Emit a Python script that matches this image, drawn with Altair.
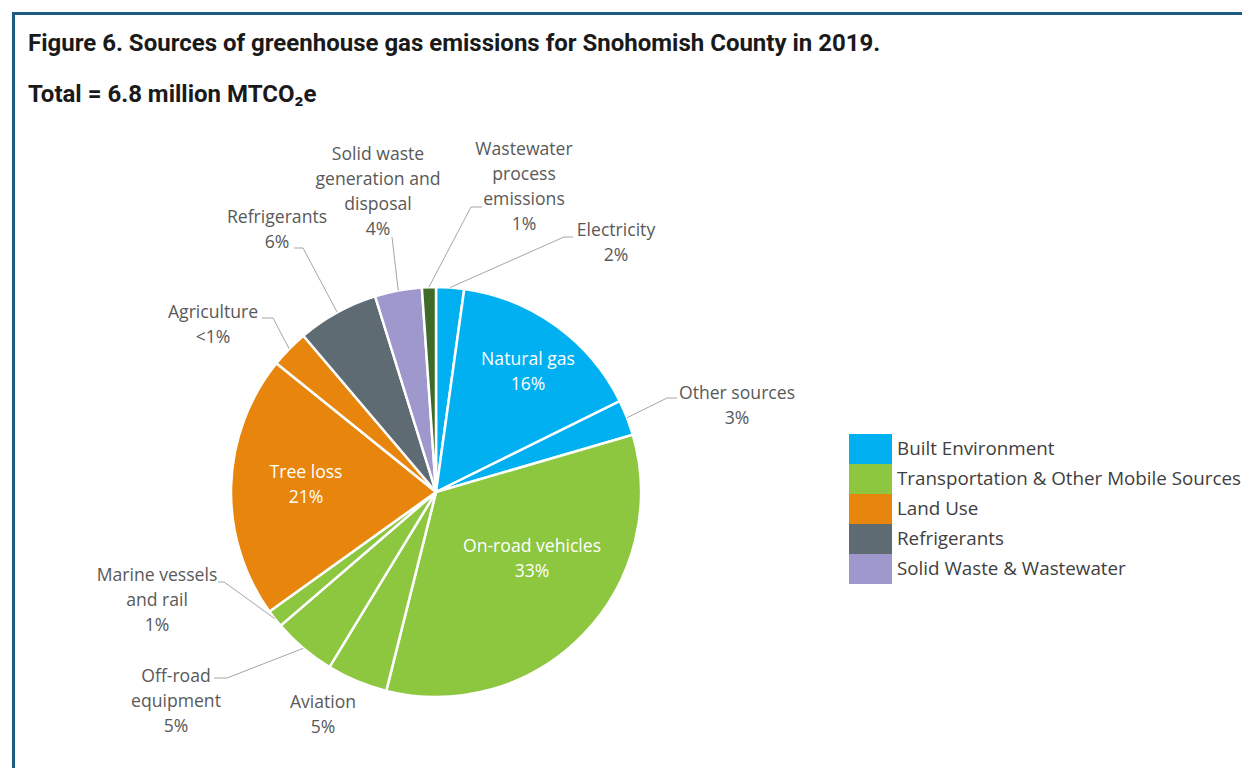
import altair as alt
import pandas as pd

# ---------------- data ----------------
names = ["Electricity", "Natural gas", "Other sources", "On-road vehicles", "Aviation",
         "Off-road equipment", "Marine vessels and rail", "Tree loss", "Agriculture",
         "Refrigerants", "Solid waste generation and disposal", "Wastewater process emissions"]
values = [2.2, 15.5, 2.8, 33.4, 4.8, 5.0, 1.4, 20.7, 3.0, 6.4, 3.7, 1.1]
groups = ["Built Environment", "Built Environment", "Built Environment",
          "Transportation & Other Mobile Sources", "Transportation & Other Mobile Sources",
          "Transportation & Other Mobile Sources", "Transportation & Other Mobile Sources",
          "Land Use", "Land Use", "Refrigerants",
          "Solid Waste & Wastewater", "Solid Waste & Wastewater"]
label_names = ["Electricity", "Natural gas", "Other sources", "On-road vehicles", "Aviation",
               "Off-road\nequipment", "Marine vessels\nand rail", "Tree loss", "Agriculture",
               "Refrigerants", "Solid waste\ngeneration and\ndisposal", "Wastewater\nprocess\nemissions"]
pct_labels = ["2%", "16%", "3%", "33%", "5%", "5%", "1%", "21%", "<1%", "6%", "4%", "1%"]
inside = [False, True, False, True, False, False, False, True, False, False, False, False]

group_names = ["Built Environment", "Transportation & Other Mobile Sources", "Land Use",
               "Refrigerants", "Solid Waste & Wastewater"]

# ---------------- styles ----------------
group_colors = ["#00B0F0", "#8DC63F", "#E8850C", "#5F6B73", "#9F98CC"]
slice_colors = ["#00B0F0", "#00B0F0", "#00B0F0", "#8DC63F", "#8DC63F", "#8DC63F", "#8DC63F",
                "#E8850C", "#E8850C", "#5F6B73", "#9F98CC", "#3E6B27"]

# ---------------- annotation layout (page pixels, first text line) ----------------
label_x = [616, 528, 737, 532, 323, 176, 157, 306, 213, 277, 378, 524]
label_y = [231, 360, 394, 547, 703, 677, 576, 473, 313, 218, 155, 150]
elbow_x = [564, None, 667, None, None, 227, 224, None, 273, 303, 392, 471]
elbow_y = [237, None, 398, None, None, 678, 582, None, 318, 248, 237, 207]
end_x = [573, None, 677, None, None, 214, 218, None, 262, 294, 392, 482]
end_y = [237, None, 398, None, None, 678, 582, None, 318, 248, 237, 207]

W, H = 1234, 760          # drawing size
OX, OY = 8, 8             # page margin
CX, CY, R = 436, 492, 205  # pie centre / radius on the page

df = pd.DataFrame({
    "idx": list(range(len(names))),
    "name": names, "value": values, "group": groups,
    "label": [f"{n}\n{p}" for n, p in zip(label_names, pct_labels)],
    "inside": inside,
    "lx": label_x, "ly": label_y,
    "elbow_x": elbow_x, "elbow_y": elbow_y, "end_x": end_x, "end_y": end_y,
})
gdf = pd.DataFrame({"group": group_names})

xs = alt.Scale(domain=[OX, OX + W], nice=False, zero=False)
ys = alt.Scale(domain=[OY + H, OY], nice=False, zero=False)

pie = alt.Chart(df).mark_arc(radius=R, stroke="white", strokeWidth=2.5).encode(
    theta=alt.Theta("value:Q", stack=True),
    order=alt.Order("idx:Q"),
    color=alt.Color("name:N", scale=alt.Scale(domain=names, range=slice_colors), legend=None),
    x=alt.value(CX - OX),
    y=alt.value(CY - OY),
)

lead = (
    alt.Chart(df)
    .transform_joinaggregate(total="sum(value)")
    .transform_window(cum="sum(value)", sort=[alt.SortField("idx")], frame=[None, 0])
    .transform_calculate(
        mid="(datum.cum - datum.value / 2) / datum.total * 2 * PI",
        ex=f"{CX} + {R} * sin(datum.mid)",
        ey=f"{CY} - {R} * cos(datum.mid)",
    )
    .transform_filter("isValid(datum.elbow_x)")
)
rule1 = lead.mark_rule(color="#A6A6A6", strokeWidth=1).encode(
    x=alt.X("ex:Q", scale=xs, axis=None), y=alt.Y("ey:Q", scale=ys, axis=None),
    x2="elbow_x:Q", y2="elbow_y:Q")
rule2 = lead.mark_rule(color="#A6A6A6", strokeWidth=1).encode(
    x=alt.X("elbow_x:Q", scale=xs, axis=None), y=alt.Y("elbow_y:Q", scale=ys, axis=None),
    x2="end_x:Q", y2="end_y:Q")

txt_common = dict(align="center", baseline="middle", lineBreak="\n", lineHeight=25,
                  font="Open Sans", fontSize=17.6)
txt_out = alt.Chart(df).transform_filter("!datum.inside").mark_text(
    color="#595959", **txt_common).encode(
    x=alt.X("lx:Q", scale=xs, axis=None), y=alt.Y("ly:Q", scale=ys, axis=None), text="label:N")
txt_in = alt.Chart(df).transform_filter("datum.inside").mark_text(
    color="white", **txt_common).encode(
    x=alt.X("lx:Q", scale=xs, axis=None), y=alt.Y("ly:Q", scale=ys, axis=None), text="label:N")

legend = alt.Chart(gdf).mark_square(size=0, filled=True).encode(
    fill=alt.Fill("group:N", scale=alt.Scale(domain=group_names, range=group_colors),
                  legend=alt.Legend(
                      orient="none", legendX=847.5, legendY=426, title=None,
                      symbolType="M-1.433,-1H1.433V1H-1.433Z", symbolSize=900,
                      symbolStrokeWidth=0, symbolOpacity=1,
                      labelFont="Open Sans", labelFontSize=18.8, labelColor="#404040",
                      labelOffset=11.5, rowPadding=0, padding=0, labelLimit=500)),
)

one = pd.DataFrame({"k": [0]})
title = alt.Chart(one).mark_text(
    text="Figure 6. Sources of greenhouse gas emissions for Snohomish County in 2019.",
    font="Roboto", fontSize=24, fontWeight="bold", color="#1A1A1A",
    align="left", baseline="middle").encode(x=alt.value(20), y=alt.value(36))
subtitle = alt.Chart(one).mark_text(
    text="Total = 6.8 million MTCO₂e",
    font="Roboto", fontSize=24, fontWeight="bold", color="#1A1A1A",
    align="left", baseline="middle").encode(x=alt.value(20), y=alt.value(87))

border_color = "#1D5B84"
border_left = alt.Chart(one).mark_rule(color=border_color, strokeWidth=3).encode(
    x=alt.value(5.5), y=alt.value(4), y2=alt.value(H))
border_top = alt.Chart(one).mark_rule(color=border_color, strokeWidth=3).encode(
    x=alt.value(4), x2=alt.value(W), y=alt.value(5.5))

chart = alt.layer(
    pie, rule1, rule2, txt_out, txt_in, legend, title, subtitle, border_left, border_top
).properties(
    width=W, height=H, autosize="none", padding=0, background="white"
).configure_view(stroke=None)

chart.save("out.html", embed_options={"renderer": "svg", "actions": False})
